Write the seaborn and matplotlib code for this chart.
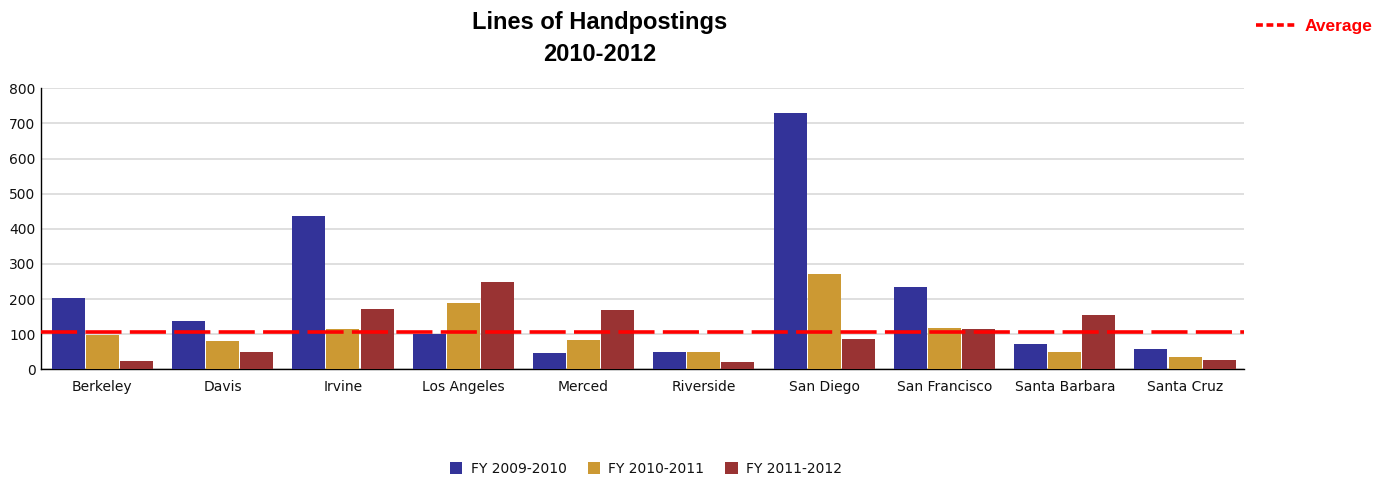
import matplotlib
matplotlib.use("Agg")
import matplotlib.pyplot as plt
from matplotlib.lines import Line2D
from matplotlib.patches import Patch
import seaborn as sns
import pandas as pd

campuses = ["Berkeley", "Davis", "Irvine", "Los Angeles", "Merced", "Riverside",
            "San Diego", "San Francisco", "Santa Barbara", "Santa Cruz"]
fy_2009_2010 = [202, 137, 436, 100, 46, 49, 730, 234, 72, 58]
fy_2010_2011 = [98, 81, 115, 189, 83, 49, 271, 118, 49, 35]
fy_2011_2012 = [24, 49, 172, 248, 169, 21, 86, 115, 155, 26]
series_names = ["FY 2009-2010", "FY 2010-2011", "FY 2011-2012"]
average_value = 107
y_ticks = [0, 100, 200, 300, 400, 500, 600, 700, 800]

colors = ["#333399", "#CC9933", "#993333"]

df = pd.DataFrame({
    "campus": campuses * 3,
    "value": fy_2009_2010 + fy_2010_2011 + fy_2011_2012,
    "series": [s for s in series_names for _ in campuses],
})

sns.set_theme(style="white")
plt.rcParams["font.family"] = ["DejaVu Sans"]
plt.rcParams["text.color"] = "black"

fig = plt.figure(figsize=(13.96, 4.8), dpi=100)
ax = fig.add_axes([41 / 1396, 1 - 369.3 / 480, (1244 - 41) / 1396, (369.3 - 88.3) / 480])

sns.barplot(data=df, x="campus", y="value", hue="series", palette=colors,
            width=0.85, gap=0.03, saturation=1, ax=ax, legend=False,
            edgecolor="none", zorder=3)

ax.set_ylim(0, 800)
ax.set_yticks(y_ticks)
ax.set_xlim(-0.51, len(campuses) - 0.51)
ax.grid(axis="y", color="#dcdcdc", linewidth=1.3, zorder=0)
ax.set_axisbelow(True)
ax.set_xlabel("")
ax.set_ylabel("")
for side in ["top", "right"]:
    ax.spines[side].set_visible(False)
for side in ["left", "bottom"]:
    ax.spines[side].set_color("black")
    ax.spines[side].set_linewidth(1.0)
ax.tick_params(axis="both", length=0, labelsize=10, colors="#111111")
ax.tick_params(axis="x", pad=8)
ax.tick_params(axis="y", pad=4)

# Average reference line
ax.axhline(average_value, color="#ff0000", linewidth=2.6, dashes=(10, 2.3), zorder=4)

# Title
fig.text(600 / 1396, 1 - 38.5 / 480, "Lines of Handpostings\n2010-2012", ha="center", va="center",
         fontsize=17, fontweight="bold", family="Liberation Sans", linespacing=1.45,
         color="black")

# Average key in the top-right corner
fig.add_artist(Line2D([1256 / 1396, 1297 / 1396], [1 - 25 / 480, 1 - 25 / 480],
                      color="#ff0000", linewidth=2.6, dashes=(1.9, 1.0)))
fig.text(1305 / 1396, 1 - 26 / 480, "Average", ha="left", va="center", color="#ff0000",
         fontsize=12.5, fontweight="bold", family="Liberation Sans")

# Series legend
handles = [Patch(facecolor=c, edgecolor="none") for c in colors]
fig.legend(handles, series_names, loc="center", bbox_to_anchor=(646 / 1396, 1 - 469 / 480),
           ncol=3, frameon=False, fontsize=10, handlelength=0.9, handleheight=0.9,
           handletextpad=0.6, columnspacing=1.5, labelcolor="#111111")

fig.savefig("out.png", dpi=100)
